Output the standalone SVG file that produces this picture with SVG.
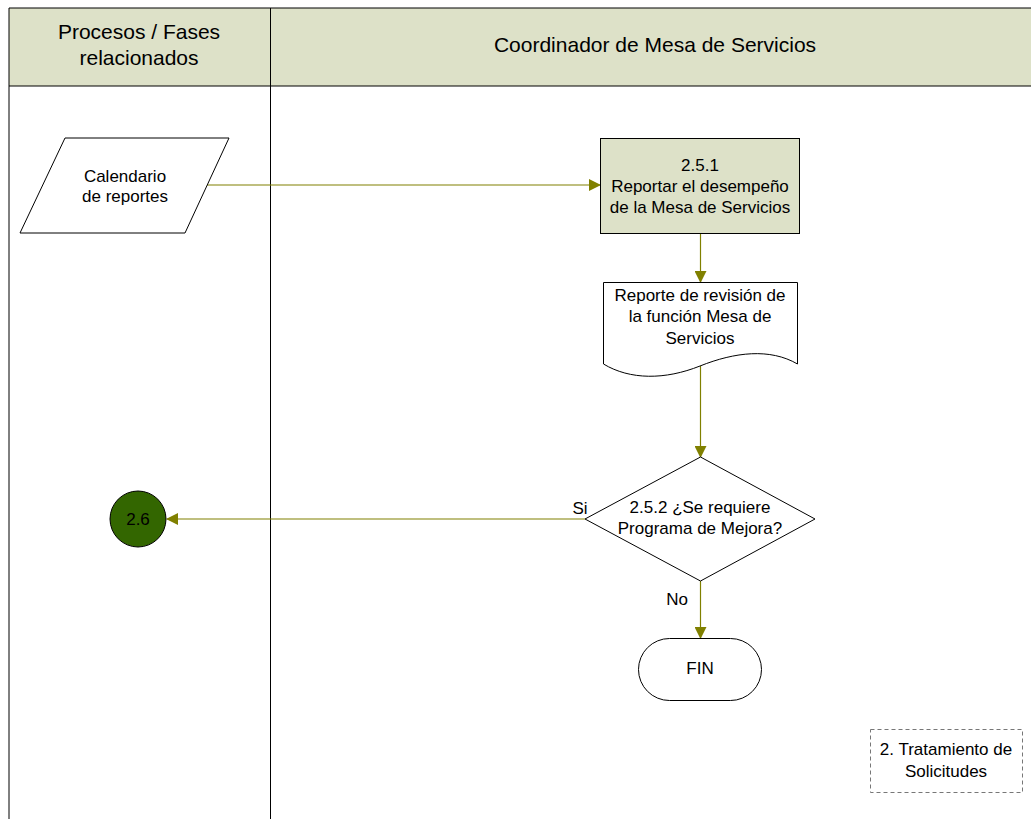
<svg xmlns="http://www.w3.org/2000/svg" width="1031" height="819" viewBox="0 0 1031 819">
  <style>
    .t { font-family: "Liberation Sans", Arial, sans-serif; fill: #000; text-anchor: middle; }
    .hdr { font-size: 21px; }
    .lbl { font-size: 17px; }
    .shape { stroke: #000; stroke-width: 1; }
    .conn { stroke: #808000; stroke-width: 1.2; fill: none; }
  </style>
  <defs>
    <marker id="arrow" viewBox="0 0 12 12" refX="11" refY="6" markerWidth="12" markerHeight="12" markerUnits="userSpaceOnUse" orient="auto">
      <path d="M0,0 L12,6 L0,12 z" fill="#808000"/>
    </marker>
  </defs>

  <rect width="1031" height="819" fill="#fff"/>

  <!-- swimlane frame -->
  <g id="lanes">
    <rect x="9" y="8" width="1030" height="78" fill="#DDE1C8"/>
    <line x1="9" y1="8" x2="1031" y2="8" stroke="#000"/>
    <line x1="9" y1="86" x2="1031" y2="86" stroke="#000"/>
    <line x1="9" y1="8" x2="9" y2="819" stroke="#000"/>
    <line x1="270.5" y1="8" x2="270.5" y2="819" stroke="#000"/>
    <text class="t hdr" x="139" y="39">Procesos / Fases</text>
    <text class="t hdr" x="139" y="65">relacionados</text>
    <text class="t hdr" x="655" y="52">Coordinador de Mesa de Servicios</text>
  </g>

  <!-- connectors -->
  <g id="connectors">
    <line class="conn" x1="207" y1="185" x2="600" y2="185" marker-end="url(#arrow)"/>
    <line class="conn" x1="700.5" y1="233" x2="700.5" y2="282" marker-end="url(#arrow)"/>
    <line class="conn" x1="700.5" y1="366" x2="700.5" y2="457" marker-end="url(#arrow)"/>
    <line class="conn" x1="585" y1="519" x2="167" y2="519" marker-end="url(#arrow)"/>
    <line class="conn" x1="700.5" y1="581" x2="700.5" y2="638" marker-end="url(#arrow)"/>
    <text class="t lbl" x="580" y="514">Si</text>
    <text class="t lbl" x="677" y="605">No</text>
  </g>

  <g id="calendario">
    <polygon class="shape" points="65,138 229,138 185,233 20,233" fill="#fff"/>
    <text class="t lbl" x="125" y="182">Calendario</text>
    <text class="t lbl" x="125" y="202">de reportes</text>
  </g>

  <g id="paso-2-5-1">
    <rect class="shape" x="600.5" y="138.5" width="199" height="95" fill="#DDE1C8"/>
    <text class="t lbl" x="700" y="171">2.5.1</text>
    <text class="t lbl" x="700" y="192">Reportar el desempeño</text>
    <text class="t lbl" x="700" y="213">de la Mesa de Servicios</text>
  </g>

  <g id="reporte-revision">
    <path class="shape" d="M603.5,282.5 L797.5,282.5 L797.5,364 C770,348 735,352 700,366 C665,380 630,380 603.5,364 Z" fill="#fff"/>
    <text class="t lbl" x="700" y="301">Reporte de revisión de</text>
    <text class="t lbl" x="700" y="322">la función Mesa de</text>
    <text class="t lbl" x="700" y="344">Servicios</text>
  </g>

  <g id="decision-2-5-2">
    <polygon class="shape" points="700.5,457 815,519 700.5,581 585,519" fill="#fff"/>
    <text class="t lbl" x="700" y="513">2.5.2 ¿Se requiere</text>
    <text class="t lbl" x="700" y="534">Programa de Mejora?</text>
  </g>

  <g id="conector-2-6">
    <circle class="shape" cx="138" cy="519" r="28" fill="#336600"/>
    <text class="t lbl" x="138" y="525">2.6</text>
  </g>

  <g id="fin">
    <rect class="shape" x="638.5" y="638.5" width="123" height="62" rx="31" ry="31" fill="#fff"/>
    <text class="t lbl" x="700" y="674">FIN</text>
  </g>

  <g id="referencia-proceso">
    <rect x="870.5" y="729.5" width="152" height="63" fill="#fff" stroke="#777" stroke-dasharray="4,3"/>
    <text class="t lbl" x="946" y="755">2. Tratamiento de</text>
    <text class="t lbl" x="946" y="777">Solicitudes</text>
  </g>
</svg>
